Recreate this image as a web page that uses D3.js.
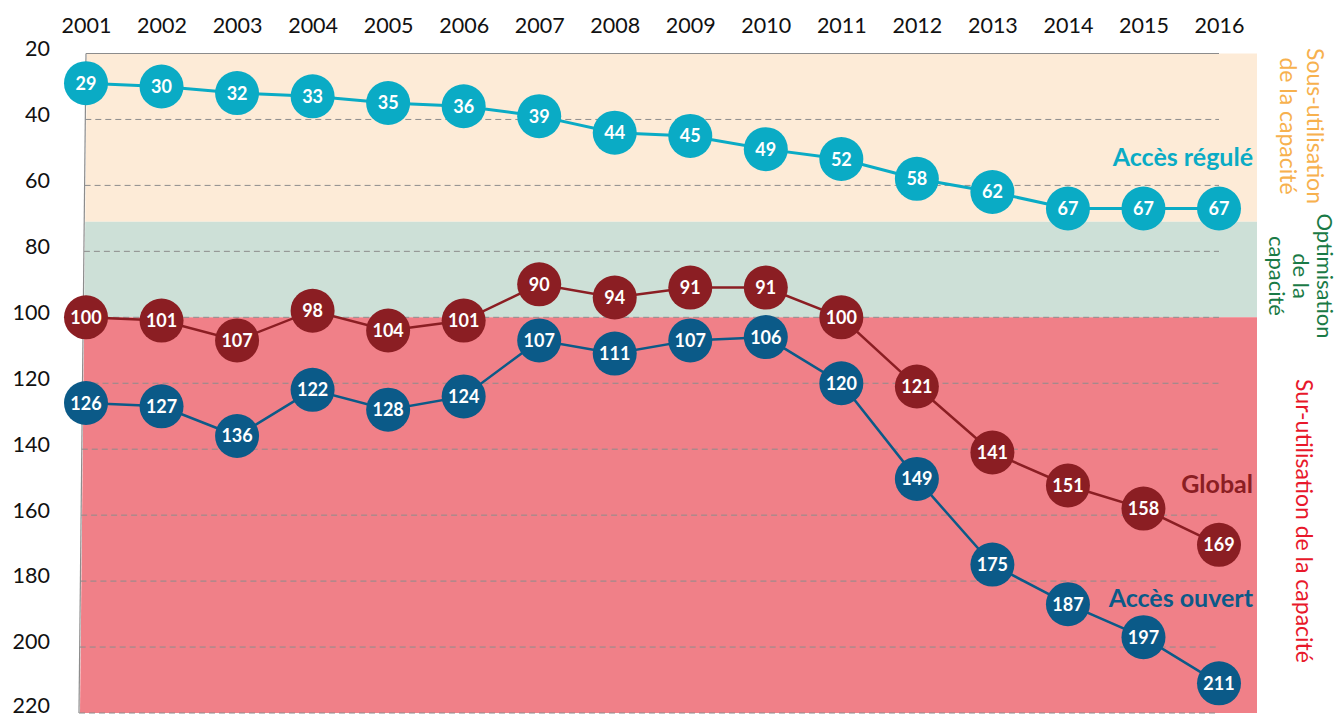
<!DOCTYPE html>
<html>
<head>
<meta charset="utf-8">
<script src="https://cdn.jsdelivr.net/npm/d3@7"></script>
<style>
  html, body { margin: 0; padding: 0; background: #fff; }
  svg { display: block; font-family: Lato, "Open Sans", sans-serif; }
</style>
</head>
<body>
<svg id="chart" width="1340" height="718"></svg>
<script>
// Years along the top axis
const years = [2001, 2002, 2003, 2004, 2005, 2006, 2007, 2008, 2009, 2010, 2011, 2012, 2013, 2014, 2015, 2016];

// Capacity utilisation index per access regime
const accesRegule = [29, 30, 32, 33, 35, 36, 39, 44, 45, 49, 52, 58, 62, 67, 67, 67];
const global      = [100, 101, 107, 98, 104, 101, 90, 94, 91, 91, 100, 121, 141, 151, 158, 169];
const accesOuvert = [126, 127, 136, 122, 128, 124, 107, 111, 107, 106, 120, 149, 175, 187, 197, 211];

// Left axis ticks (inverted axis: 20 at top)
const yTicks = [20, 40, 60, 80, 100, 120, 140, 160, 180, 200, 220];

// Utilisation zones [from, to]
const zones = [
  { name: "sous", from: 20, to: 71 },
  { name: "optim", from: 71, to: 100 },
  { name: "sur", from: 100, to: 220 }
];

const svg = d3.select("#chart");

const x = d3.scalePoint().domain(years).range([86, 1219]);
const y = d3.scaleLinear().domain([20, 220]).range([53.5, 713]);

// The plot's left border leans slightly between top and bottom
const leftTop = 86, leftBottom = 79;
const leftAt = py => leftTop + (leftBottom - leftTop) * (py - y(20)) / (y(220) - y(20));
const plotRight = 1257;
const gridRight = 1219;

const zoneColor = { sous: "#fdebd7", optim: "#cde0d7", sur: "#f08088" };

// Background zones
svg.append("g").selectAll("path")
  .data(zones)
  .join("path")
  .attr("fill", d => zoneColor[d.name])
  .attr("d", d => {
    const y0 = y(d.from), y1 = y(d.to);
    return `M${leftAt(y0) + 1},${y0}L${plotRight},${y0}L${plotRight},${y1}L${leftAt(y1) + 1},${y1}Z`;
  });

// Gridlines
svg.append("g").selectAll("line")
  .data(yTicks)
  .join("line")
  .attr("x1", d => leftAt(y(d)))
  .attr("x2", gridRight)
  .attr("y1", d => y(d))
  .attr("y2", d => y(d))
  .attr("stroke", "#8c8c8c")
  .attr("stroke-width", 1)
  .attr("stroke-dasharray", d => d === 20 ? null : "6,4");

// Left border
svg.append("line")
  .attr("x1", leftTop).attr("y1", y(20))
  .attr("x2", leftBottom).attr("y2", y(220))
  .attr("stroke", "#8c8c8c").attr("stroke-width", 1.2);

// Top axis: years
const xAxis = svg.append("g")
  .attr("transform", "translate(0,33)")
  .call(d3.axisTop(x).tickSize(0).tickPadding(0));
xAxis.select(".domain").remove();
xAxis.selectAll("text")
  .attr("font-family", "Lato, sans-serif")
  .attr("font-size", 21.5)
  .attr("fill", "#111")
  .attr("dy", 0);

// Left axis
const yAxis = svg.append("g")
  .attr("transform", "translate(50,0)")
  .call(d3.axisLeft(y).tickValues(yTicks).tickSize(0).tickPadding(0));
yAxis.select(".domain").remove();
yAxis.selectAll("text")
  .attr("font-family", "Lato, sans-serif")
  .attr("font-size", 21.5)
  .attr("fill", "#111")
  .attr("dy", "0.32em")
  .attr("transform", d => d === 220 ? "translate(0,-7)" : "translate(0,-5)");

// Series
const series = [
  { key: "ouvert", values: accesOuvert, color: "#0b5a88", width: 2.5 },
  { key: "global", values: global, color: "#8b1e23", width: 2.5 },
  { key: "regule", values: accesRegule, color: "#0aabc5", width: 3 }
];

const line = d3.line().x((d, i) => x(years[i])).y(d => y(d));

series.forEach(s => {
  const g = svg.append("g");
  g.append("path")
    .datum(s.values)
    .attr("fill", "none")
    .attr("stroke", s.color)
    .attr("stroke-width", s.width)
    .attr("d", line);
  const pts = g.selectAll("g.pt")
    .data(s.values)
    .join("g")
    .attr("class", "pt")
    .attr("transform", (d, i) => `translate(${x(years[i])},${y(d)})`);
  pts.append("circle").attr("r", 22).attr("fill", s.color);
  pts.append("text")
    .attr("text-anchor", "middle")
    .attr("dy", "0.36em")
    .attr("fill", "#fff")
    .attr("font-weight", "bold")
    .attr("font-size", 18)
    .text(d => d);
});

// Series names (vertical position given on the value scale)
const seriesLabels = [
  { text: "Accès régulé", color: "#0aabc5", yv: 54 },
  { text: "Global", color: "#8b1e23", yv: 153.3 },
  { text: "Accès ouvert", color: "#0b5a88", yv: 188 }
];
svg.append("g").selectAll("text")
  .data(seriesLabels)
  .join("text")
  .attr("x", 1253)
  .attr("y", d => y(d.yv))
  .attr("text-anchor", "end")
  .attr("font-weight", "bold")
  .attr("font-size", 25)
  .attr("fill", d => d.color)
  .text(d => d.text);

// Zone captions, rotated
const captions = [
  { lines: ["Sous-utilisation", "de la capacité"], color: "#f7b14e", x: 1307, cy: 126, gap: 27, size: 23 },
  { lines: ["Optimisation", "de la", "capacité"], color: "#1a7a46", x: 1317, cy: 276, gap: 24, size: 22 },
  { lines: ["Sur-utilisation de la capacité"], color: "#e8182b", x: 1296, cy: 521, gap: 27, size: 23 }
];
captions.forEach(c => {
  const t = svg.append("text")
    .attr("transform", `translate(${c.x},${c.cy}) rotate(90)`)
    .attr("text-anchor", "middle")
    .attr("font-size", c.size)
    .attr("fill", c.color);
  c.lines.forEach((l, i) => {
    t.append("tspan").attr("x", 0).attr("y", i * c.gap).text(l);
  });
});
</script>
</body>
</html>
